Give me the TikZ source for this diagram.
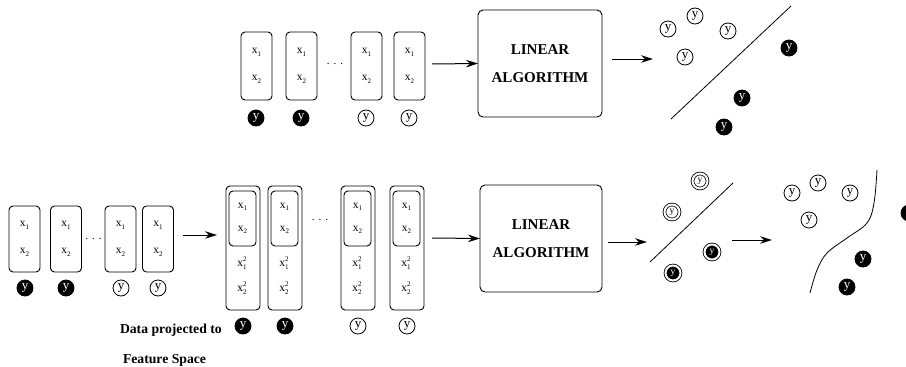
\documentclass[tikz,border=0pt]{standalone}
\usepackage{fontspec}
\setmainfont{Liberation Serif}
\usetikzlibrary{arrows.meta}

% subscripted and squared feature labels
\newcommand\subfs{\fontsize{7}{7}\selectfont}
\newcommand\xsub[1]{x\raisebox{-2.5pt}{\subfs #1}}
\newcommand\xsq[1]{x\raisebox{-2.5pt}{\rlap{\subfs #1}}\raisebox{5pt}{\subfs 2}}
\newcommand\gapdots{.\hspace{4pt}.\hspace{4pt}.}

\tikzset{
  every node/.style={inner sep=0pt, outer sep=0pt},
  vecbox/.style={draw, line width=0.9pt, rounded corners=4pt,
    minimum width=31pt, minimum height=#1, align=center,
    font=\fontsize{11.5}{27}\selectfont},
  vecbox/.default=68pt,
  featbox/.style={draw, line width=0.9pt, rounded corners=4pt,
    minimum width=34pt, minimum height=124pt},
  innerbox/.style={draw, line width=0.9pt, rounded corners=4pt,
    minimum width=27pt, minimum height=55pt, align=center,
    font=\fontsize{11.5}{23}\selectfont},
  sqlabel/.style={align=center, font=\fontsize{11.5}{25}\selectfont},
  algbox/.style={draw, line width=0.9pt, rounded corners=5pt,
    minimum width=124pt, minimum height=107pt, align=center,
    font=\fontsize{15}{28}\selectfont\bfseries},
  yopen/.style={circle, draw, line width=0.8pt, minimum size=16pt,
    font=\fontsize{13}{13}\selectfont},
  yfull/.style={circle, draw, fill=black, text=white, line width=0.8pt,
    minimum size=16pt, font=\fontsize{13}{13}\selectfont},
  yring/.style={circle, draw, double=white, double distance=2pt,
    line width=0.8pt, minimum size=15pt, font=\fontsize{9.5}{9.5}\selectfont},
  yringfull/.style={yring, fill=black, text=white},
  flow/.style={line width=1pt, -{Stealth[length=12pt,width=7.5pt,inset=4pt]}},
  dotsym/.style={font=\fontsize{11}{11}\selectfont},
  caption/.style={anchor=west, font=\fontsize{13.7}{14}\selectfont\bfseries}
}

\begin{document}
\begin{tikzpicture}[x=1pt,y=-1pt]
\useasboundingbox (0,0) rectangle (906,367);
\clip (0,0) rectangle (906,367);

% ---------- top row: input vectors ----------
\node[vecbox] (t1) at (256.5,66) {\xsub{1}\\\xsub{2}};
\node[vecbox] (t2) at (301.5,66) {\xsub{1}\\\xsub{2}};
\node[dotsym] (tdots) at (335,64) {\gapdots};
\node[vecbox] (t3) at (366.5,66) {\xsub{1}\\\xsub{2}};
\node[vecbox] (t4) at (409.5,66) {\xsub{1}\\\xsub{2}};
\node[yfull] (ty1) at (256,118) {y};
\node[yfull] (ty2) at (301,118) {y};
\node[yopen] (ty3) at (366,118) {y};
\node[yopen] (ty4) at (409,118) {y};

\node[algbox] (talg) at (540,63.5) {LINEAR\\ALGORITHM};
\coordinate (ta0) at (432,64);
\draw[flow] (ta0) -- (talg.west);

\coordinate (tb0) at (612,59);
\coordinate (tb1) at (653,59);
\draw[flow] (tb0) -- (tb1);

% top result: linear separation
\coordinate (tl0) at (671,119);
\coordinate (tl1) at (791,6);
\draw[line width=0.8pt] (tl0) -- (tl1);
\node[yopen] (tr1) at (668,29) {y};
\node[yopen] (tr2) at (695,16) {y};
\node[yopen] (tr3) at (728,31) {y};
\node[yopen] (tr4) at (685,57) {y};
\node[yfull] (tr5) at (789,48) {y};
\node[yfull] (tr6) at (742,98) {y};
\node[yfull] (tr7) at (724,127) {y};

% ---------- bottom row: input vectors ----------
\node[vecbox=66pt] (b1) at (24.5,239) {\xsub{1}\\\xsub{2}};
\node[vecbox=66pt] (b2) at (66,239) {\xsub{1}\\\xsub{2}};
\node[dotsym] (bdots) at (93.5,239) {\gapdots};
\node[vecbox=66pt] (b3) at (120.5,239) {\xsub{1}\\\xsub{2}};
\node[vecbox=66pt] (b4) at (158,239) {\xsub{1}\\\xsub{2}};
\node[yfull] (by1) at (25,288) {y};
\node[yfull] (by2) at (66,288) {y};
\node[yopen] (by3) at (121,288) {y};
\node[yopen] (by4) at (158,288) {y};

\coordinate (ba0) at (183,235);
\coordinate (ba1) at (217,235);
\draw[flow] (ba0) -- (ba1);

% ---------- bottom row: vectors in feature space ----------
\foreach \n/\x in {1/243,2/285,3/358,4/407}{
  \node[featbox] (f\n) at (\x,248) {};
  \node[innerbox] (fi\n) at (\x-0.5,218.5) {\xsub{1}\\\xsub{2}};
  \node[sqlabel] (fs\n) at (\x-1,275.5) {\xsq{1}\\\xsq{2}};
}
\node[dotsym] (fdots) at (320,220) {\gapdots};
\node[yfull] (fy1) at (243,326) {y};
\node[yfull] (fy2) at (285,326) {y};
\node[yopen] (fy3) at (358,326) {y};
\node[yopen] (fy4) at (407,326) {y};

\node[caption] (cap1) at (120,330) {Data projected to};
\node[caption] (cap2) at (123,360) {Feature Space};

\node[algbox, minimum width=122pt] (balg) at (541,238.5) {LINEAR\\ALGORITHM};
\coordinate (bb0) at (432,238);
\draw[flow] (bb0) -- (balg.west);

\coordinate (bc0) at (608,242);
\coordinate (bc1) at (647,242);
\draw[flow] (bc0) -- (bc1);

% separation in feature space
\coordinate (bl0) at (650,262);
\coordinate (bl1) at (733,183);
\draw[line width=0.8pt] (bl0) -- (bl1);
\node[yring] (br1) at (700,181) {y};
\node[yring] (br2) at (672,212) {y};
\node[yringfull] (br3) at (712,252) {y};
\node[yringfull] (br4) at (673,273) {y};

\coordinate (bd0) at (732,240);
\coordinate (bd1) at (772,240);
\draw[flow] (bd0) -- (bd1);

% resulting non-linear boundary in input space
\draw[line width=0.8pt] plot[smooth, tension=0.6] coordinates
  {(877,170) (874,203) (867,223) (847,238) (827,253) (817,270) (810,293)};
\node[yopen] (bn1) at (792,193) {y};
\node[yopen] (bn2) at (818,183) {y};
\node[yopen] (bn3) at (850,193) {y};
\node[yopen] (bn4) at (809,220) {y};
\node[yfull] (bn5) at (909,213) {y};
\node[yfull] (bn6) at (863,259) {y};
\node[yfull] (bn7) at (847,287) {y};
\end{tikzpicture}
\end{document}
